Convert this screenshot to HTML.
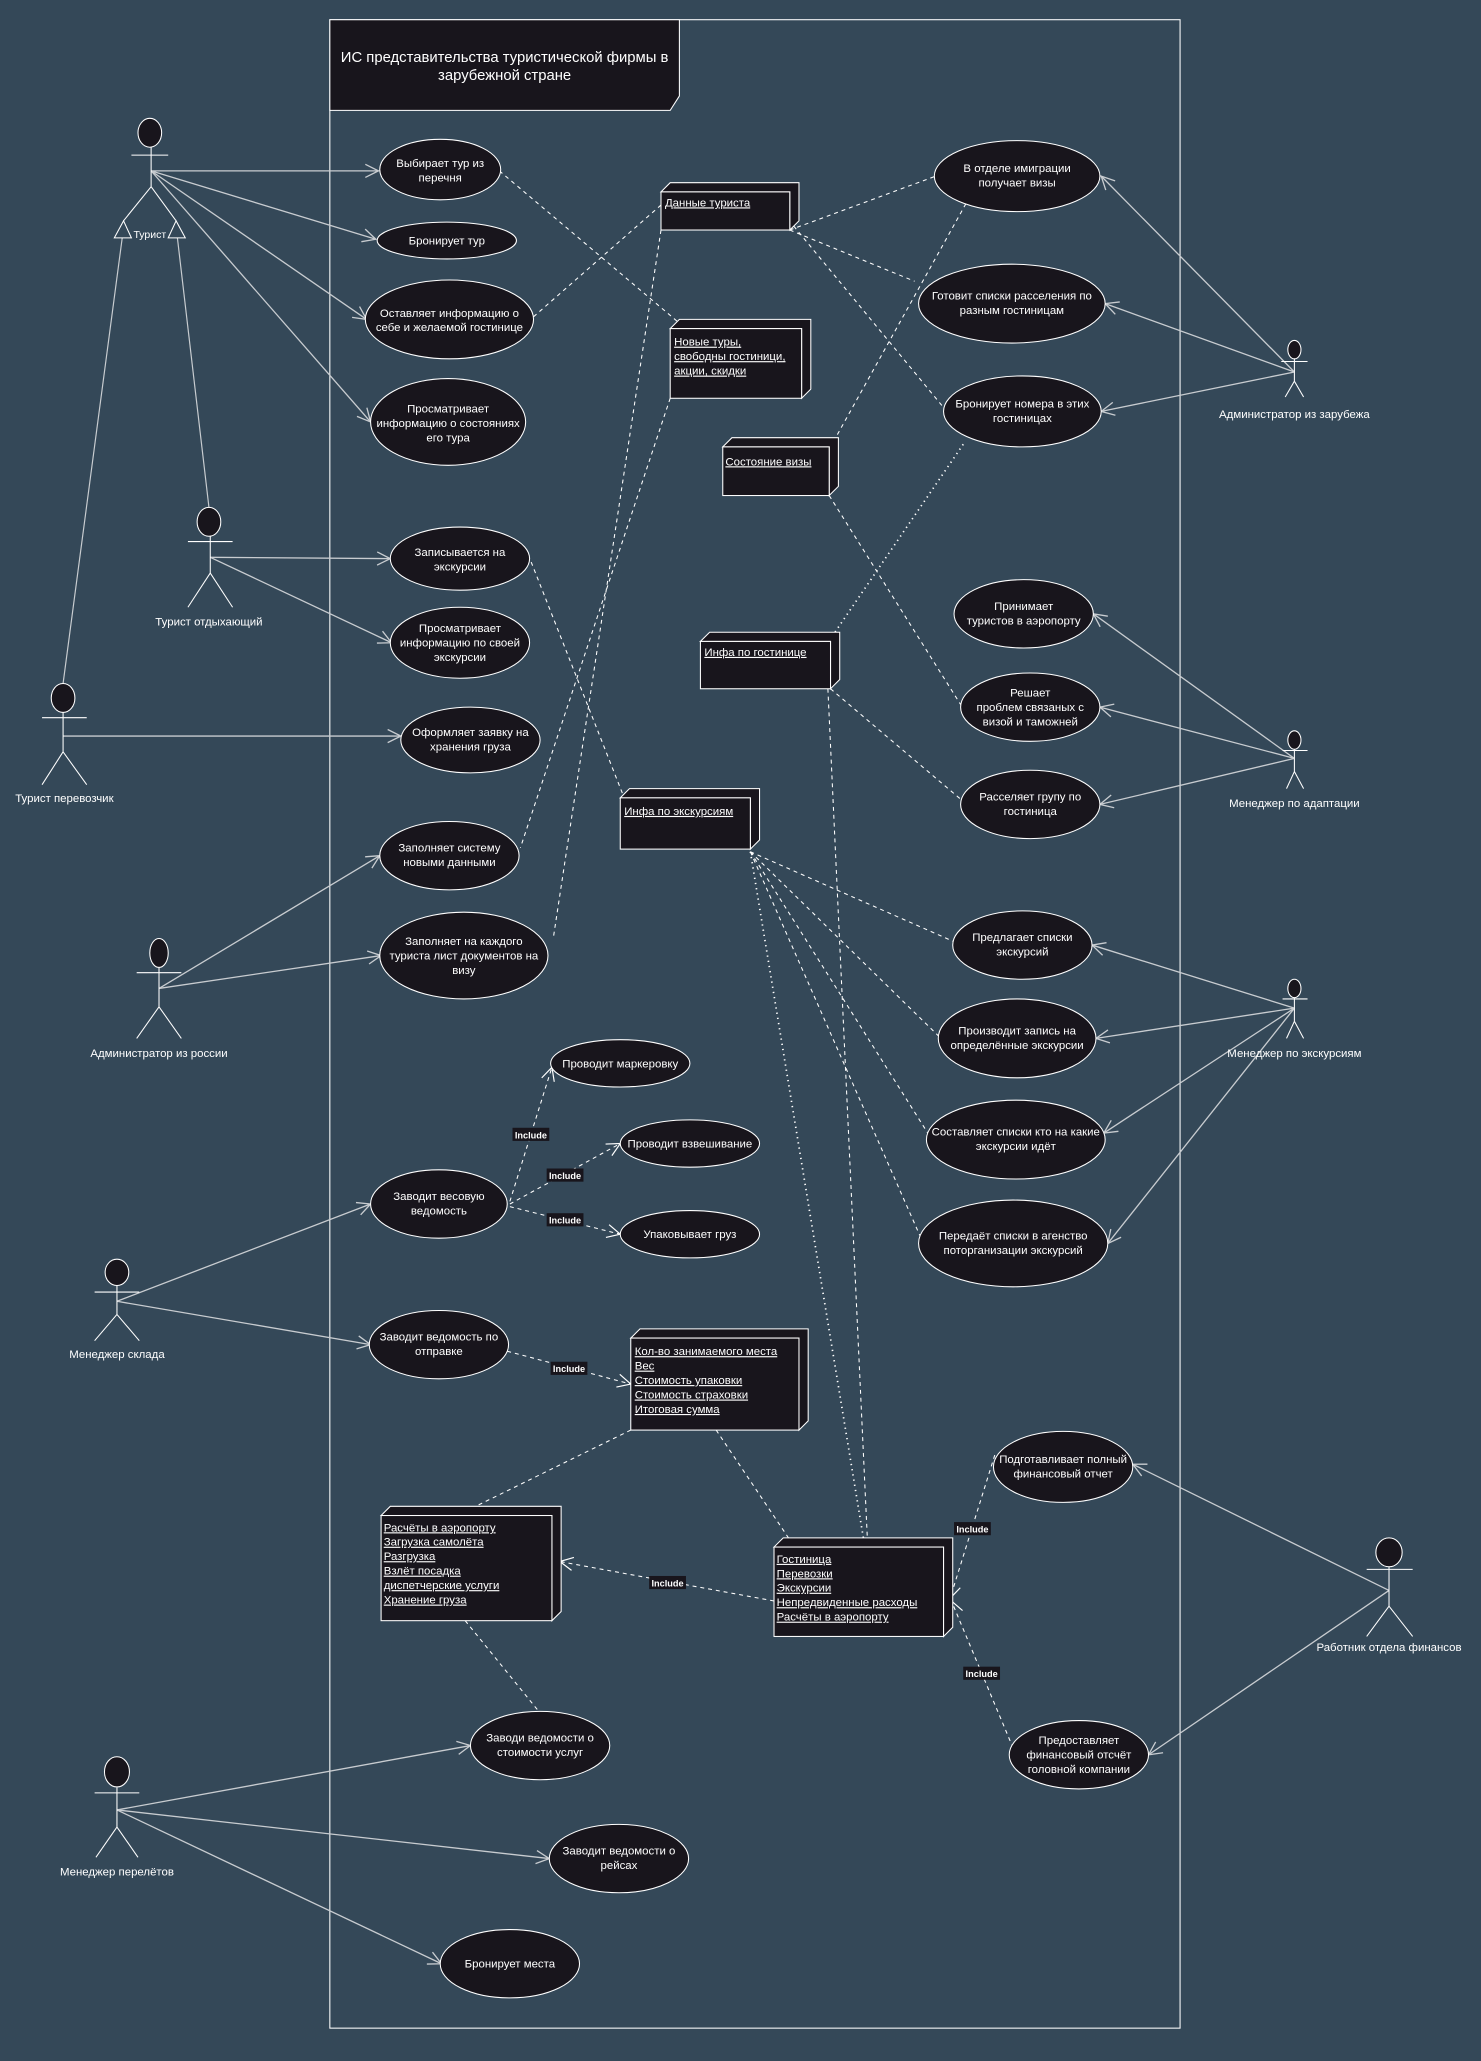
<!DOCTYPE html>
<html><head><meta charset="utf-8"><style>
html,body{margin:0;padding:0;background:#344858;}
svg{display:block}
text{font-family:"Liberation Sans Narrow","Liberation Sans","DejaVu Sans Condensed",sans-serif;fill:#fff;}
.t{font-size:8.7px;text-anchor:middle}
.u{font-size:8.7px;text-decoration:underline}
.lb{font-size:8.7px;text-anchor:middle}
.e{fill:#18151c;stroke:#fff;stroke-width:0.8}
.a{stroke:#c8ccd0;stroke-width:1;fill:none;marker-end:url(#arr)}
.d{stroke:#fff;stroke-width:0.8;stroke-dasharray:3,3;fill:none}
.dt{stroke:#fff;stroke-width:1.3;stroke-dasharray:1,3;fill:none}
.i{stroke:#fff;stroke-width:0.8;stroke-dasharray:3,3;fill:none;marker-end:url(#arr2)}
.act line{stroke:#fff;stroke-width:0.8}
.act ellipse{fill:#18151c;stroke:#fff;stroke-width:0.8}
.nd{fill:#18151c;stroke:#fff;stroke-width:0.8}
.inc{font-size:7px;font-weight:bold;text-anchor:middle}
</style></head><body>
<svg width="1481" height="2061" viewBox="0 0 1127 1568" preserveAspectRatio="none" xmlns="http://www.w3.org/2000/svg">
<defs>
<marker id="arr" viewBox="0 0 12 12" refX="11" refY="6" markerWidth="12" markerHeight="12" markerUnits="userSpaceOnUse" orient="auto"><path d="M1,1 L11,6 L1,11" fill="none" stroke="#c8ccd0" stroke-width="1"/></marker>
<marker id="arr2" viewBox="0 0 12 12" refX="11" refY="6" markerWidth="12" markerHeight="12" markerUnits="userSpaceOnUse" orient="auto"><path d="M1,1 L11,6 L1,11" fill="none" stroke="#fff" stroke-width="0.9"/></marker>
</defs>
<rect x="0" y="0" width="1127" height="1568" fill="#344858"/>
<rect x="251" y="15" width="647" height="1528" fill="none" stroke="#fff" stroke-width="0.8"/>
<polygon points="251,15 517,15 517,73 510,84 251,84" fill="#18151c" stroke="#fff" stroke-width="0.8"/>
<text x="384" y="47" style="font-size:11.3px;text-anchor:middle">ИС представительства туристической фирмы в</text>
<text x="384" y="61" style="font-size:11.3px;text-anchor:middle">зарубежной стране</text>

<line class="a" x1="115" y1="130" x2="288" y2="130"/>
<line class="a" x1="115" y1="130" x2="286" y2="182"/>
<line class="a" x1="115" y1="130" x2="279" y2="243"/>
<line class="a" x1="115" y1="130" x2="282" y2="321"/>
<line class="a" x1="160" y1="424" x2="297" y2="425"/>
<line class="a" x1="160" y1="424" x2="298" y2="489"/>
<line class="a" x1="48" y1="560" x2="305" y2="560"/>
<line class="a" x1="121" y1="752" x2="289" y2="651"/>
<line class="a" x1="121" y1="752" x2="290" y2="727"/>
<line class="a" x1="89" y1="990" x2="282" y2="916"/>
<line class="a" x1="89" y1="990" x2="282" y2="1023"/>
<line class="a" x1="89" y1="1377" x2="358" y2="1328"/>
<line class="a" x1="89" y1="1377" x2="418" y2="1414"/>
<line class="a" x1="89" y1="1377" x2="336" y2="1494"/>
<line class="a" x1="985" y1="283" x2="838" y2="134"/>
<line class="a" x1="985" y1="283" x2="841" y2="231"/>
<line class="a" x1="985" y1="283" x2="838" y2="313"/>
<line class="a" x1="985" y1="577" x2="832" y2="467"/>
<line class="a" x1="985" y1="577" x2="837" y2="538"/>
<line class="a" x1="985" y1="577" x2="837" y2="612"/>
<line class="a" x1="985" y1="767" x2="831" y2="719"/>
<line class="a" x1="985" y1="767" x2="834" y2="790"/>
<line class="a" x1="985" y1="767" x2="840" y2="862"/>
<line class="a" x1="985" y1="767" x2="843" y2="946"/>
<line class="a" x1="1057" y1="1210" x2="862" y2="1114"/>
<line class="a" x1="1057" y1="1210" x2="874" y2="1335"/>

<line x1="48" y1="520" x2="93" y2="181" stroke="#c8ccd0" stroke-width="0.9"/>
<line x1="159" y1="386" x2="135" y2="181" stroke="#c8ccd0" stroke-width="0.9"/>
<polygon points="94,168 87,181 100,181" fill="none" stroke="#fff" stroke-width="0.8"/>
<polygon points="134,168 128,181 141,181" fill="none" stroke="#fff" stroke-width="0.8"/>

<line class="d" x1="380" y1="130" x2="516" y2="245"/>
<line class="d" x1="406" y1="241" x2="503" y2="156"/>
<line class="d" x1="601" y1="175" x2="712" y2="134"/>
<line class="d" x1="601" y1="175" x2="696" y2="214"/>
<line class="d" x1="604" y1="172" x2="718" y2="310"/>
<line class="d" x1="503" y1="175" x2="421" y2="714"/>
<line class="d" x1="510" y1="303" x2="396" y2="645"/>
<line class="d" x1="735" y1="155" x2="632" y2="340"/>
<line class="d" x1="631" y1="377" x2="731" y2="536"/>
<line class="dt" x1="733" y1="338" x2="634" y2="483"/>
<line class="d" x1="632" y1="524" x2="731" y2="608"/>
<line class="d" x1="630" y1="524" x2="660" y2="1170"/>
<line class="d" x1="402" y1="422" x2="475" y2="607"/>
<line class="d" x1="571" y1="648" x2="725" y2="716"/>
<line class="d" x1="571" y1="648" x2="714" y2="788"/>
<line class="d" x1="571" y1="648" x2="706" y2="862"/>
<line class="d" x1="571" y1="648" x2="700" y2="940"/>
<line class="dt" x1="571" y1="648" x2="657" y2="1170"/>
<line class="d" x1="545" y1="1088" x2="600" y2="1170"/>
<line class="d" x1="480" y1="1088" x2="362" y2="1146"/>
<line class="d" x1="354" y1="1233" x2="410" y2="1302"/>

<line class="i" x1="388" y1="914" x2="420" y2="812"/>
<line class="i" x1="388" y1="916" x2="472" y2="870"/>
<line class="i" x1="388" y1="918" x2="472" y2="939"/>
<line class="i" x1="386" y1="1028" x2="480" y2="1053"/>
<line class="i" x1="589" y1="1218" x2="426" y2="1188"/>
<line class="i" x1="757" y1="1107" x2="723" y2="1216"/>
<line class="i" x1="771" y1="1330" x2="724" y2="1218"/>

<g>
<ellipse class="e" cx="335" cy="129" rx="46" ry="23"/><text class="t" x="335" y="127">Выбирает тур из</text><text class="t" x="335" y="138">перечня</text>
<ellipse class="e" cx="340" cy="183" rx="53" ry="14"/><text class="t" x="340" y="186">Бронирует тур</text>
<ellipse class="e" cx="342" cy="243" rx="64" ry="30"/><text class="t" x="342" y="241">Оставляет информацию о</text><text class="t" x="342" y="252">себе и желаемой гостинице</text>
<ellipse class="e" cx="341" cy="321" rx="59" ry="33"/><text class="t" x="341" y="314">Просматривает</text><text class="t" x="341" y="325">информацию о состояниях</text><text class="t" x="341" y="336">его тура</text>
<ellipse class="e" cx="350" cy="425" rx="53" ry="24"/><text class="t" x="350" y="423">Записывается на</text><text class="t" x="350" y="434">экскурсии</text>
<ellipse class="e" cx="350" cy="489" rx="53" ry="27"/><text class="t" x="350" y="481">Просматривает</text><text class="t" x="350" y="492">информацию по своей</text><text class="t" x="350" y="503">экскурсии</text>
<ellipse class="e" cx="358" cy="563" rx="53" ry="25"/><text class="t" x="358" y="560">Оформляет заявку на</text><text class="t" x="358" y="571">хранения груза</text>
<ellipse class="e" cx="342" cy="651" rx="53" ry="26"/><text class="t" x="342" y="648">Заполняет систему</text><text class="t" x="342" y="659">новыми данными</text>
<ellipse class="e" cx="353" cy="727" rx="64" ry="33"/><text class="t" x="353" y="719">Заполняет на каждого</text><text class="t" x="353" y="730">туриста лист документов на</text><text class="t" x="353" y="741">визу</text>
<ellipse class="e" cx="472" cy="809" rx="53" ry="18"/><text class="t" x="472" y="812">Проводит маркеровку</text>
<ellipse class="e" cx="525" cy="870" rx="53" ry="18"/><text class="t" x="525" y="873">Проводит взвешивание</text>
<ellipse class="e" cx="525" cy="939" rx="53" ry="18"/><text class="t" x="525" y="942">Упаковывает груз</text>
<ellipse class="e" cx="334" cy="916" rx="52" ry="26"/><text class="t" x="334" y="913">Заводит весовую</text><text class="t" x="334" y="924">ведомость</text>
<ellipse class="e" cx="334" cy="1023" rx="53" ry="26"/><text class="t" x="334" y="1020">Заводит ведомость по</text><text class="t" x="334" y="1031">отправке</text>
<ellipse class="e" cx="411" cy="1328" rx="53" ry="26"/><text class="t" x="411" y="1325">Заводи ведомости о</text><text class="t" x="411" y="1336">стоимости услуг</text>
<ellipse class="e" cx="471" cy="1414" rx="53" ry="26"/><text class="t" x="471" y="1411">Заводит ведомости о</text><text class="t" x="471" y="1422">рейсах</text>
<ellipse class="e" cx="388" cy="1494" rx="53" ry="26"/><text class="t" x="388" y="1497">Бронирует места</text>
<ellipse class="e" cx="774" cy="134" rx="63" ry="27"/><text class="t" x="774" y="131">В отделе имиграции</text><text class="t" x="774" y="142">получает визы</text>
<ellipse class="e" cx="770" cy="231" rx="71" ry="30"/><text class="t" x="770" y="228">Готовит списки расселения по</text><text class="t" x="770" y="239">разным гостиницам</text>
<ellipse class="e" cx="778" cy="313" rx="60" ry="27"/><text class="t" x="778" y="310">Бронирует номера в этих</text><text class="t" x="778" y="321">гостиницах</text>
<ellipse class="e" cx="779" cy="467" rx="53" ry="26"/><text class="t" x="779" y="464">Принимает</text><text class="t" x="779" y="475">туристов в аэропорту</text>
<ellipse class="e" cx="784" cy="538" rx="53" ry="26"/><text class="t" x="784" y="530">Решает</text><text class="t" x="784" y="541">проблем связаных с</text><text class="t" x="784" y="552">визой и таможней</text>
<ellipse class="e" cx="784" cy="612" rx="53" ry="26"/><text class="t" x="784" y="609">Расселяет групу по</text><text class="t" x="784" y="620">гостиница</text>
<ellipse class="e" cx="778" cy="719" rx="53" ry="26"/><text class="t" x="778" y="716">Предлагает списки</text><text class="t" x="778" y="727">экскурсий</text>
<ellipse class="e" cx="774" cy="790" rx="60" ry="30"/><text class="t" x="774" y="787">Производит запись на</text><text class="t" x="774" y="798">определённые экскурсии</text>
<ellipse class="e" cx="773" cy="867" rx="68" ry="30"/><text class="t" x="773" y="864">Составляет списки кто на какие</text><text class="t" x="773" y="875">экскурсии идёт</text>
<ellipse class="e" cx="771" cy="946" rx="72" ry="33"/><text class="t" x="771" y="943">Передаёт списки в агенство</text><text class="t" x="771" y="954">поторганизации экскурсий</text>
<ellipse class="e" cx="809" cy="1116" rx="53" ry="27"/><text class="t" x="809" y="1113">Подготавливает полный</text><text class="t" x="809" y="1124">финансовый отчет</text>
<ellipse class="e" cx="821" cy="1335" rx="53" ry="26"/><text class="t" x="821" y="1327">Предоставляет</text><text class="t" x="821" y="1338">финансовый отсчёт</text><text class="t" x="821" y="1349">головной компании</text>
</g>

<g>
<polygon class="nd" points="503,146 510,139 608,139 608,168 601,175 601,146"/><rect class="nd" x="503" y="146" width="98" height="29"/>
<text class="u" x="506" y="157">Данные туриста</text>
<polygon class="nd" points="510,250 517,243 617,243 617,296 610,303 610,250"/><rect class="nd" x="510" y="250" width="100" height="53"/>
<text class="u" x="513" y="263">Новые туры,</text><text class="u" x="513" y="274">свободны гостиници,</text><text class="u" x="513" y="285">акции, скидки</text>
<polygon class="nd" points="550,340 557,333 638,333 638,370 631,377 631,340"/><rect class="nd" x="550" y="340" width="81" height="37"/>
<text class="u" x="552" y="354">Состояние визы</text>
<polygon class="nd" points="533,488 540,481 639,481 639,517 632,524 632,488"/><rect class="nd" x="533" y="488" width="99" height="36"/>
<text class="u" x="536" y="499">Инфа по гостинице</text>
<polygon class="nd" points="472,607 479,600 578,600 578,639 571,646 571,607"/><rect class="nd" x="472" y="607" width="99" height="39"/>
<text class="u" x="475" y="620">Инфа по экскурсиям</text>
<polygon class="nd" points="480,1018 487,1011 615,1011 615,1081 608,1088 608,1018"/><rect class="nd" x="480" y="1018" width="128" height="70"/>
<text class="u" x="483" y="1031">Кол-во занимаемого места</text><text class="u" x="483" y="1042">Вес</text><text class="u" x="483" y="1053">Стоимость упаковки</text><text class="u" x="483" y="1064">Стоимость страховки</text><text class="u" x="483" y="1075">Итоговая сумма</text>
<polygon class="nd" points="290,1153 297,1146 427,1146 427,1226 420,1233 420,1153"/><rect class="nd" x="290" y="1153" width="130" height="80"/>
<text class="u" x="292" y="1165">Расчёты в аэропорту</text><text class="u" x="292" y="1176">Загрузка самолёта</text><text class="u" x="292" y="1187">Разгрузка</text><text class="u" x="292" y="1198">Взлёт  посадка</text><text class="u" x="292" y="1209">диспетчерские услуги</text><text class="u" x="292" y="1220">Хранение груза</text>
<polygon class="nd" points="589,1177 596,1170 725,1170 725,1238 718,1245 718,1177"/><rect class="nd" x="589" y="1177" width="129" height="68"/>
<text class="u" x="591" y="1189">Гостиница</text><text class="u" x="591" y="1200">Перевозки</text><text class="u" x="591" y="1211">Экскурсии</text><text class="u" x="591" y="1222">Непредвиденные расходы</text><text class="u" x="591" y="1233">Расчёты в аэропорту</text>
</g>

<g>
<rect x="390" y="858" width="28" height="10" fill="#18151c"/><text class="inc" x="404" y="866">Include</text>
<rect x="416" y="889" width="28" height="10" fill="#18151c"/><text class="inc" x="430" y="897">Include</text>
<rect x="416" y="923" width="28" height="10" fill="#18151c"/><text class="inc" x="430" y="931">Include</text>
<rect x="419" y="1036" width="28" height="10" fill="#18151c"/><text class="inc" x="433" y="1044">Include</text>
<rect x="494" y="1199" width="28" height="10" fill="#18151c"/><text class="inc" x="508" y="1207">Include</text>
<rect x="726" y="1158" width="28" height="10" fill="#18151c"/><text class="inc" x="740" y="1166">Include</text>
<rect x="733" y="1268" width="28" height="10" fill="#18151c"/><text class="inc" x="747" y="1276">Include</text>
</g>

<g class="act">
<line x1="115" y1="112" x2="115" y2="142"/><line x1="100" y1="118" x2="128" y2="118" stroke="#aab"/>
<line x1="115" y1="142" x2="94" y2="168"/><line x1="115" y1="142" x2="134" y2="168"/>
<ellipse cx="114" cy="101" rx="9" ry="11"/>
<text class="lb" x="114" y="181" style="font-size:8px">Турист</text>
<line x1="160" y1="408" x2="160" y2="436"/><line x1="143" y1="412" x2="177" y2="412"/>
<line x1="160" y1="436" x2="143" y2="462"/><line x1="160" y1="436" x2="177" y2="462"/>
<ellipse cx="159" cy="397" rx="9" ry="11"/>
<text class="lb" x="159" y="476">Турист отдыхающий</text>
<line x1="48" y1="542" x2="48" y2="572"/><line x1="32" y1="546" x2="66" y2="546"/>
<line x1="48" y1="572" x2="32" y2="597"/><line x1="48" y1="572" x2="66" y2="597"/>
<ellipse cx="48" cy="531" rx="9" ry="11"/>
<text class="lb" x="49" y="610">Турист перевозчик</text>
<line x1="121" y1="736" x2="121" y2="766"/><line x1="104" y1="740" x2="138" y2="740"/>
<line x1="121" y1="766" x2="104" y2="790"/><line x1="121" y1="766" x2="138" y2="790"/>
<ellipse cx="121" cy="725" rx="7" ry="11"/>
<text class="lb" x="121" y="804">Администратор из россии</text>
<line x1="89" y1="978" x2="89" y2="1000"/><line x1="72" y1="983" x2="106" y2="983"/>
<line x1="89" y1="1000" x2="72" y2="1020"/><line x1="89" y1="1000" x2="106" y2="1020"/>
<ellipse cx="89" cy="968" rx="9" ry="10"/>
<text class="lb" x="89" y="1033">Менеджер склада</text>
<line x1="89" y1="1360" x2="89" y2="1390"/><line x1="72" y1="1364" x2="106" y2="1364"/>
<line x1="89" y1="1390" x2="73" y2="1413"/><line x1="89" y1="1390" x2="105" y2="1413"/>
<ellipse cx="89" cy="1348" rx="9.5" ry="11.5"/>
<text class="lb" x="89" y="1427">Менеджер перелётов</text>
<line x1="985" y1="273" x2="985" y2="290"/><line x1="975" y1="275" x2="995" y2="275"/>
<line x1="985" y1="290" x2="978" y2="302"/><line x1="985" y1="290" x2="992" y2="302"/>
<ellipse cx="985" cy="266" rx="5" ry="7"/>
<text class="lb" x="985" y="318">Администратор из зарубежа</text>
<line x1="985" y1="570" x2="985" y2="587"/><line x1="976" y1="571" x2="995" y2="571"/>
<line x1="985" y1="587" x2="979" y2="600"/><line x1="985" y1="587" x2="992" y2="600"/>
<ellipse cx="985" cy="563" rx="5" ry="7"/>
<text class="lb" x="985" y="614">Менеджер по адаптации</text>
<line x1="985" y1="758" x2="985" y2="777"/><line x1="976" y1="760" x2="995" y2="760"/>
<line x1="985" y1="777" x2="979" y2="790"/><line x1="985" y1="777" x2="992" y2="790"/>
<ellipse cx="985" cy="752" rx="5" ry="7"/>
<text class="lb" x="985" y="804">Менеджер по экскурсиям</text>
<line x1="1057" y1="1192" x2="1057" y2="1222"/><line x1="1040" y1="1194" x2="1075" y2="1194"/>
<line x1="1057" y1="1222" x2="1040" y2="1245"/><line x1="1057" y1="1222" x2="1075" y2="1245"/>
<ellipse cx="1057" cy="1181" rx="10" ry="11"/>
<text class="lb" x="1057" y="1256">Работник отдела финансов</text>
</g>
</svg>
</body></html>
